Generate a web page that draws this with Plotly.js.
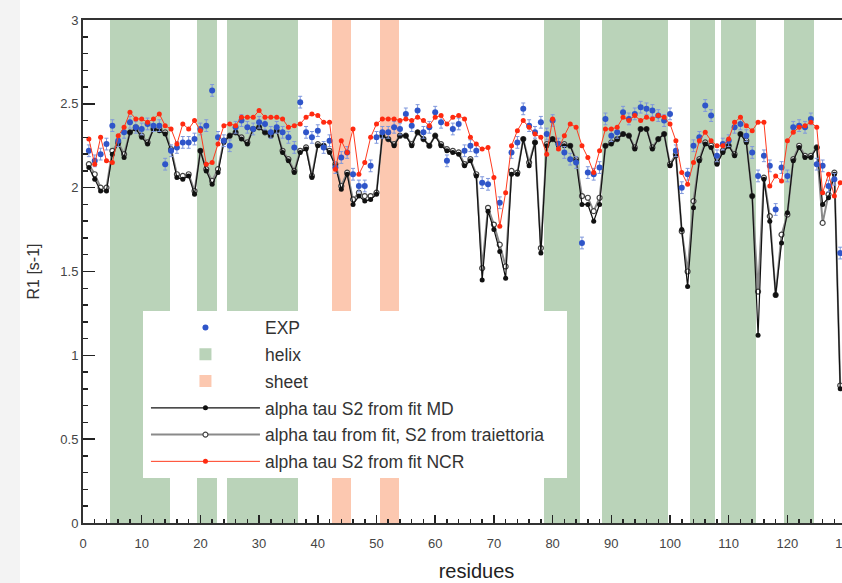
<!DOCTYPE html>
<html><head><meta charset="utf-8">
<script src="https://cdn.plot.ly/plotly-3.0.1.min.js"></script>
<style>html,body{margin:0;padding:0;overflow:hidden;background:#fff;}#chart{width:900px;height:583px;}</style>
</head><body><div id="chart"></div>
<script>
const residues=[1,2,3,4,5,6,7,8,9,10,11,12,13,14,15,16,17,18,19,20,21,22,23,24,25,26,27,28,29,30,31,32,33,34,35,36,37,38,39,40,41,42,43,44,45,46,47,48,49,50,51,52,53,54,55,56,57,58,59,60,61,62,63,64,65,66,67,68,69,70,71,72,73,74,75,76,77,78,79,80,81,82,83,84,85,86,87,88,89,90,91,92,93,94,95,96,97,98,99,100,101,102,103,104,105,106,107,108,109,110,111,112,113,114,115,116,117,118,119,120,121,122,123,124,125,126,127,128,129];
const expR1=[2.22,2.16,2.20,2.26,2.37,2.28,2.33,2.39,2.36,2.35,2.38,2.37,2.37,2.14,2.22,2.24,2.27,2.27,2.29,2.35,2.37,2.58,2.30,2.28,2.25,2.36,2.40,2.36,2.35,2.39,2.38,2.33,2.36,2.33,2.30,2.24,2.51,2.33,2.30,2.34,2.24,2.28,2.12,2.18,2.21,2.08,2.01,2.01,2.13,2.30,2.33,2.33,2.36,2.35,2.44,2.37,2.46,2.33,2.36,2.45,2.39,2.16,2.35,2.38,2.22,2.25,2.22,2.03,2.02,null,1.91,null,2.21,2.27,2.47,2.37,2.33,2.39,2.32,2.40,2.26,2.21,2.17,2.15,1.67,2.09,2.08,2.12,2.41,2.31,2.33,2.45,2.41,2.44,2.48,2.47,2.46,2.43,2.40,2.44,2.22,2.00,2.08,2.25,2.30,2.49,2.43,2.19,2.26,2.28,2.36,2.38,2.31,2.21,2.07,2.19,2.13,1.87,2.12,2.07,2.36,2.37,2.36,2.41,2.14,2.13,2.01,2.05,1.61];
const mdR1=[2.12,2.05,1.98,1.98,2.20,2.26,2.18,2.33,2.35,2.30,2.26,2.35,2.34,2.32,2.22,2.06,2.05,2.07,1.96,2.22,2.10,2.02,2.09,2.27,2.31,2.33,2.29,2.26,2.35,2.36,2.33,2.31,2.34,2.21,2.16,2.09,2.21,2.23,2.06,2.25,2.25,2.21,2.13,1.99,2.08,1.90,1.95,1.92,1.93,1.96,2.31,2.29,2.25,2.31,2.31,2.25,2.33,2.29,2.25,2.31,2.25,2.22,2.21,2.20,2.13,2.16,2.07,1.45,1.86,1.75,1.62,1.46,2.08,2.08,2.29,2.13,2.27,1.61,2.25,2.29,2.25,2.25,2.25,2.16,1.90,1.90,1.80,1.90,2.25,2.26,2.29,2.32,2.31,2.23,2.35,2.35,2.23,2.29,2.32,2.13,2.19,1.75,1.41,1.88,2.16,2.26,2.24,2.14,2.21,2.25,2.19,2.32,2.27,1.95,1.12,2.05,1.80,1.36,1.67,1.85,2.16,2.24,2.18,2.18,2.24,1.90,1.94,2.08,0.80];
const trajR1=[2.14,2.08,2.00,2.00,2.22,2.27,2.20,2.33,2.36,2.31,2.27,2.35,2.35,2.33,2.23,2.08,2.07,2.08,1.98,2.22,2.11,2.04,2.11,2.28,2.31,2.33,2.30,2.27,2.35,2.36,2.33,2.31,2.34,2.22,2.17,2.10,2.22,2.24,2.07,2.26,2.25,2.22,2.14,2.01,2.09,1.93,1.97,1.95,1.95,1.97,2.31,2.29,2.26,2.31,2.31,2.26,2.33,2.29,2.25,2.31,2.26,2.23,2.22,2.21,2.14,2.17,2.08,1.52,1.88,1.78,1.66,1.53,2.10,2.09,2.29,2.15,2.27,1.64,2.26,2.29,2.26,2.26,2.25,2.17,1.95,1.94,1.86,1.94,2.25,2.27,2.29,2.32,2.31,2.24,2.35,2.35,2.24,2.29,2.32,2.14,2.20,1.74,1.50,1.92,2.17,2.27,2.25,2.15,2.22,2.25,2.20,2.32,2.28,1.95,1.38,2.06,1.83,1.36,1.72,1.84,2.17,2.25,2.19,2.19,2.24,1.79,1.96,2.09,0.82];
const ncrR1=[2.29,2.14,2.30,2.16,2.15,2.31,2.36,2.45,2.41,2.41,2.39,2.41,2.44,2.37,2.35,2.26,2.38,2.35,2.40,2.34,2.14,2.15,2.26,2.37,2.38,2.37,2.42,2.42,2.42,2.46,2.42,2.42,2.42,2.41,2.36,2.37,2.38,2.42,2.44,2.43,2.39,2.39,2.11,2.28,2.21,2.35,2.08,2.15,2.30,2.38,2.41,2.41,2.41,2.40,2.41,2.40,2.42,2.40,2.37,2.42,2.43,2.38,2.42,2.43,2.41,2.30,2.26,2.23,2.24,2.06,1.77,1.97,2.25,2.34,2.40,2.36,2.32,2.30,2.20,2.41,2.23,2.31,2.38,2.36,2.25,2.18,2.09,2.22,2.35,2.35,2.36,2.42,2.40,2.43,2.40,2.42,2.41,2.43,2.42,2.38,2.28,2.09,2.02,2.15,2.28,2.33,2.28,2.25,2.25,2.29,2.39,2.42,2.37,2.34,2.39,2.39,2.01,2.07,2.04,2.28,2.33,2.36,2.37,2.39,2.36,1.97,2.08,1.95,2.03];
const helixStart=[4.6,19.4,24.5,78.5,88.4,103.4,108.7,119.4];
const helixEnd=[14.8,22.8,36.6,84.6,99.6,107.6,114.6,124.6];
const sheetStart=[42.4,50.6];
const sheetEnd=[45.6,53.8];
const xTicks=[0,10,20,30,40,50,60,70,80,90,100,110,120,130];
const yTicks=[0,0.5,1,1.5,2,2.5,3];

function band(starts,ends,name,color,rank){
  return {type:'bar',name:name,x:starts.map((s,i)=>(s+ends[i])/2),width:starts.map((s,i)=>ends[i]-s),
    y:starts.map(()=>3),base:0,marker:{color:color,line:{width:0}},legendrank:rank,legendgroup:name,hoverinfo:'skip'};
}
const data=[
  band(helixStart,helixEnd,'helix','#bad3b9',2),
  band(sheetStart,sheetEnd,'sheet','#fcc8b0',3),
  {type:'scatter',mode:'lines+markers',name:'alpha tau from fit, S2 from traiettoria',x:residues,y:trajR1,
   line:{color:'#8a8a8a',width:2},marker:{symbol:'circle',size:5,color:'#ffffff',line:{color:'#444',width:1.2}},legendrank:5,legendgroup:'g5'},
  {type:'scatter',mode:'lines+markers',name:'alpha tau S2 from fit MD',x:residues,y:mdR1,
   line:{color:'#111',width:1.2},marker:{symbol:'circle',size:5,color:'#111'},legendrank:4,legendgroup:'g4'},
  {type:'scatter',mode:'markers',name:'EXP',x:residues,y:expR1,
   marker:{symbol:'circle',size:6,color:'#2f55c9'},error_y:{type:'constant',value:0.035,color:'#7f97dc',thickness:1,width:2},legendrank:1,legendgroup:'g1'},
  {type:'scatter',mode:'lines+markers',name:'alpha tau S2 from fit NCR',x:residues,y:ncrR1,
   line:{color:'#ff3b1f',width:1},marker:{symbol:'circle',size:5,color:'#ff2a10'},legendrank:6,legendgroup:'g6'}
];
const layout={
  width:900,height:583,margin:{l:83,r:30,t:20,b:60},
  paper_bgcolor:'#ffffff',plot_bgcolor:'#ffffff',
  barmode:'overlay',bargap:0,showlegend:true,
  font:{family:'Liberation Sans, Arial, sans-serif',color:'#333'},
  xaxis:{range:[0,134.07],tickvals:xTicks,ticktext:xTicks.map(String),ticks:'inside',ticklen:8,tickwidth:1.5,tickcolor:'#222',
    minor:{dtick:2,ticks:'inside',ticklen:4,tickcolor:'#222'},showgrid:false,zeroline:false,showline:true,linecolor:'#333',linewidth:2,mirror:true,
    ticklabelstandoff:7,
    tickfont:{size:13,family:'Liberation Sans Narrow, Liberation Sans, Arial',color:'#444'},
    title:{text:'residues',font:{size:20,family:'Liberation Sans Narrow, Liberation Sans, Arial',color:'#222'},standoff:14}},
  yaxis:{range:[0,3],tickvals:yTicks,ticktext:['0','0.5','1','1.5','2','2.5','3'],ticks:'inside',ticklen:12,tickwidth:1.5,tickcolor:'#222',
    minor:{dtick:0.1,ticks:'inside',ticklen:5,tickcolor:'#222'},showgrid:false,zeroline:false,showline:true,linecolor:'#333',linewidth:2,mirror:false,
    tickfont:{size:13,family:'Liberation Sans Narrow, Liberation Sans, Arial',color:'#444'},
    title:{text:'R1 [s-1]',font:{size:16,color:'#333'},standoff:17}},
  legend:{x:0.080,y:0.424,xanchor:'left',yanchor:'top',bgcolor:'rgba(0,0,0,0)',borderwidth:0,itemwidth:109,
    traceorder:'grouped',tracegroupgap:1,font:{size:17.5,color:'#333'}},
  shapes:[
    {type:'rect',xref:'paper',yref:'paper',x0:(143-83)/787,x1:(567-83)/787,y0:(523-478)/503,y1:(523-311)/503,fillcolor:'#ffffff',line:{width:0},layer:'above'},
    {type:'rect',xref:'paper',yref:'paper',x0:-83/787,x1:-63/787,y0:-60/503,y1:543/503,fillcolor:'#f3f3f3',line:{width:0},layer:'below'}
  ]
};
Plotly.newPlot('chart',data,layout,{displayModeBar:false,staticPlot:true});
</script></body></html>
